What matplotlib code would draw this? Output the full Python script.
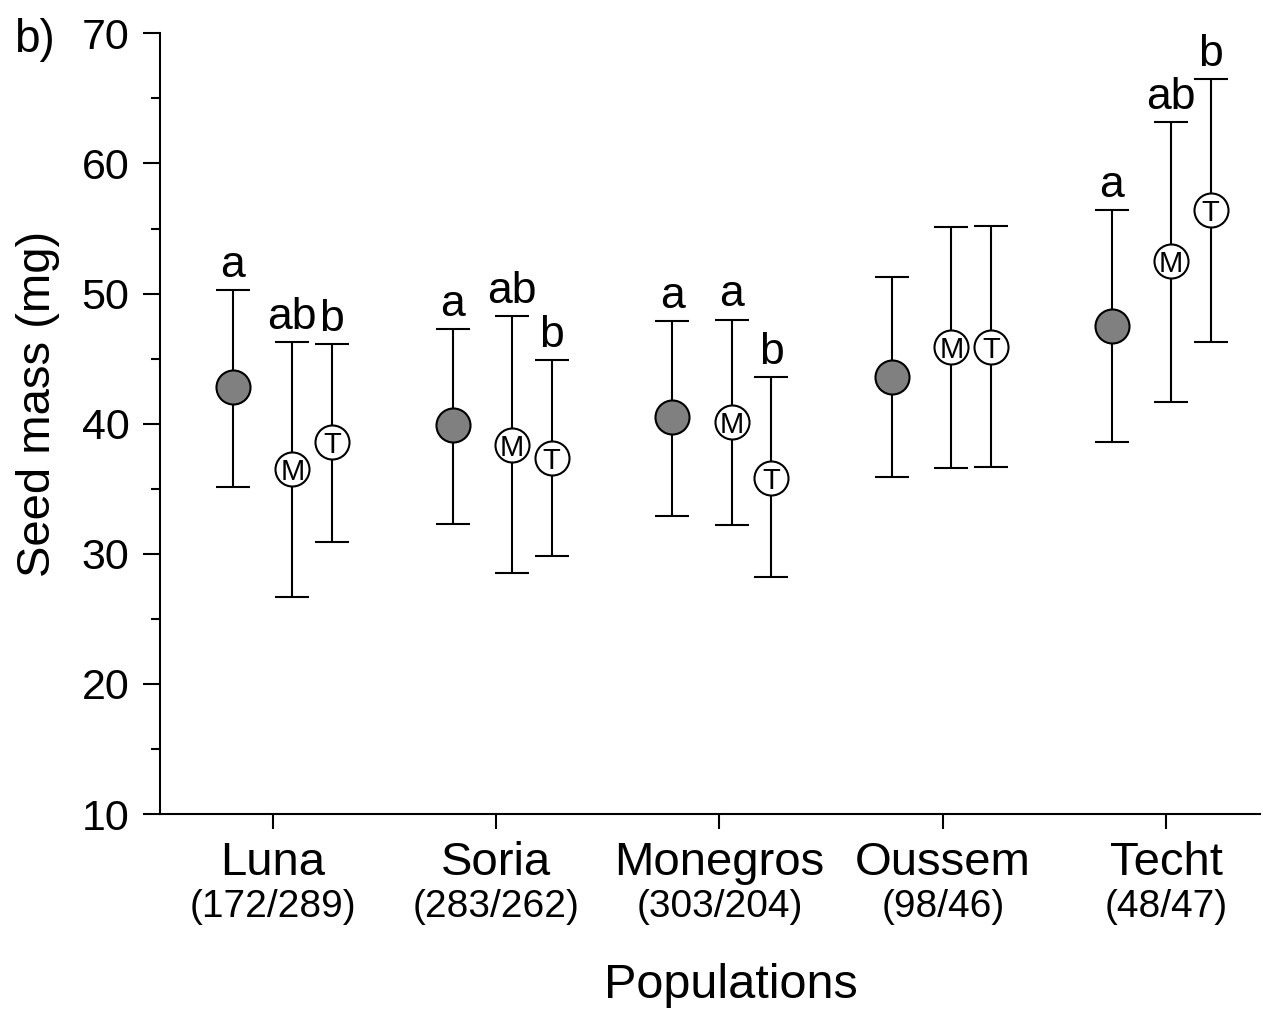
import matplotlib
matplotlib.use("Agg")
import matplotlib.pyplot as plt
from matplotlib.ticker import MultipleLocator
from matplotlib import font_manager

plt.rcParams['font.family'] = ['Liberation Sans', 'DejaVu Sans']

populations = ['Luna', 'Soria', 'Monegros', 'Oussem', 'Techt']
sample_sizes = ['(172/289)', '(283/262)', '(303/204)', '(98/46)', '(48/47)']

# filled = all seeds, M / T = the two seed types
mean_all = [42.8, 39.9, 40.5, 43.6, 47.5]
low_all = [35.1, 32.3, 32.9, 35.9, 38.6]
high_all = [50.3, 47.3, 47.9, 51.3, 56.4]
letters_all = ['a', 'a', 'a', '', 'a']

mean_m = [36.5, 38.4, 40.1, 45.9, 52.5]
low_m = [26.7, 28.5, 32.2, 36.6, 41.7]
high_m = [46.3, 48.3, 48.0, 55.1, 63.2]
letters_m = ['ab', 'ab', 'a', '', 'ab']

mean_t = [38.6, 37.4, 35.8, 45.9, 56.4]
low_t = [30.9, 29.8, 28.2, 36.7, 46.3]
high_t = [46.1, 44.9, 43.6, 55.2, 66.5]
letters_t = ['b', 'b', 'b', '', 'b']

# narrow font for the letters inside the circles, if there is one
names = {f.name for f in font_manager.fontManager.ttflist}
narrow = 'Liberation Sans Narrow' if 'Liberation Sans Narrow' in names else 'Liberation Sans'
inner_size = 24 if narrow == 'Liberation Sans Narrow' else 21

fig = plt.figure(figsize=(12.63, 10.10), dpi=100)
ax = fig.add_axes([0.1267, 0.194, 0.8713, 0.773])

pos = list(range(1, len(populations) + 1))
tick_pos = [p + 0.18 + 0.017 * i for i, p in enumerate(pos)]

series = [
    (0.0, mean_all, low_all, high_all, letters_all, '#808080', ''),
    (0.27, mean_m, low_m, high_m, letters_m, 'white', 'M'),
    (0.45, mean_t, low_t, high_t, letters_t, 'white', 'T'),
]

for off, mean, low, high, lets, fc, lab in series:
    xs = [p + off for p in pos]
    yerr = [[m - l for m, l in zip(mean, low)], [h - m for m, h in zip(mean, high)]]
    ax.errorbar(xs, mean, yerr=yerr, fmt='none', ecolor='black', elinewidth=1.5,
                capsize=12, capthick=1.5, zorder=2)
    ax.plot(xs, mean, 'o', ms=24.5, mfc=fc, mec='black', mew=1.5, zorder=3)
    for x, m, h, s in zip(xs, mean, high, lets):
        if lab:
            ax.text(x, m, lab, ha='center', va='center_baseline', fontsize=inner_size,
                    family=narrow, zorder=4)
        if s:
            ax.annotate(s, (x, h), xytext=(0, 3), textcoords='offset points',
                        ha='center', va='bottom', fontsize=32)

ax.set_xlim(0.668, 5.677)
ax.set_ylim(10, 70)
ax.spines['top'].set_visible(False)
ax.spines['right'].set_visible(False)
for s in ['left', 'bottom']:
    ax.spines[s].set_linewidth(1.5)

ax.yaxis.set_major_locator(MultipleLocator(10))
ax.yaxis.set_minor_locator(MultipleLocator(5))
ax.tick_params(axis='y', which='major', length=12, width=1.5, labelsize=31, pad=10)
ax.tick_params(axis='y', which='minor', length=6.5, width=1.5)
ax.set_xticks(tick_pos)
ax.set_xticklabels([''] * len(tick_pos))
ax.tick_params(axis='x', length=11, width=1.5)

trans = ax.get_xaxis_transform()
for x, name, n in zip(tick_pos, populations, sample_sizes):
    ax.text(x, -0.034, name, transform=trans, ha='center', va='top', fontsize=34)
    ax.text(x, -0.096, n, transform=trans, ha='center', va='top', fontsize=28)

fig.text(0.030, 0.600, 'Seed mass (mg)', rotation=90, ha='center', va='center', fontsize=34)
fig.text(0.579, 0.024, 'Populations', ha='center', va='center', fontsize=35)
fig.text(0.011, 0.960, 'b)', ha='left', va='center', fontsize=33)

fig.savefig('out.png', dpi=100)
